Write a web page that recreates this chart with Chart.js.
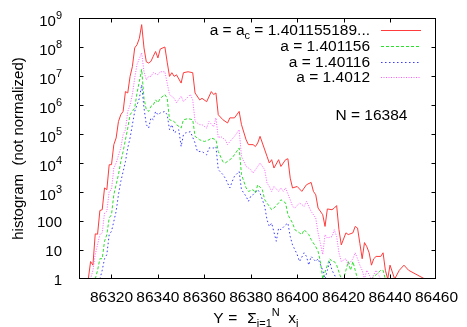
<!DOCTYPE html>
<html><head><meta charset="utf-8">
<script src="https://cdn.jsdelivr.net/npm/chart.js@4/dist/chart.umd.min.js"></script>
<style>html,body{margin:0;padding:0;background:#fff}canvas{display:block}</style>
</head><body>
<canvas id="c" width="467" height="327"></canvas>
<script>
// ---- data ----
const xTicks = [86320, 86340, 86360, 86380, 86400, 86420, 86440, 86460];
const yTicks = [1, 10, 100, 1e3, 1e4, 1e5, 1e6, 1e7, 1e8, 1e9];
const seriesLabels = ['a = a_c = 1.401155189...', 'a = 1.401156', 'a = 1.40116', 'a = 1.4012'];

const redX = [86310,86311,86312,86313,86314,86315,86316,86317,86318,86319,86320,86321,86322,86323,86324,86325,86326,86327,86328,86329,86330,86331,86332,86333,86334,86335,86336,86337,86338,86339,86340,86341,86343,86344,86345,86346,86347,86348,86350,86351,86353,86355,86356,86358,86359,86361,86363,86364,86365,86366,86368,86370,86371,86373,86375,86376,86378,86379,86381,86382,86383,86384,86385,86387,86388,86389,86390,86392,86393,86395,86396,86397,86398,86400,86402,86404,86406,86407,86408,86409,86411,86412,86413,86415,86416,86417,86418,86419,86421,86422,86424,86425,86426,86427,86428,86429,86430,86431,86432,86433,86434,86436,86437,86438,86439,86440,86442,86444,86446,86448,86455];
const redY = [1,4,3,36,35,230,245,1380,1200,8700,8800,4.3e4,7.3e4,2.7e5,4.6e5,6e5,2.9e6,2.6e6,9.7e6,2.1e7,9.3e7,1.2e8,2e8,5.9e8,9.3e7,3.1e7,2.8e7,3.2e7,4.8e7,7e7,4.2e7,8.5e7,1e8,3e7,9.7e6,1.3e7,9.7e6,1.1e7,5.7e6,1.3e7,1.4e7,1.3e7,2.6e6,1.5e6,1.7e6,1.3e6,2.9e6,2.3e6,2.6e6,4.6e5,3.1e5,2.4e5,3.6e5,3.6e5,6e5,2.1e5,6.3e4,4.3e4,4.3e4,3.7e4,4.9e4,8.3e4,4.9e4,1.7e4,1e4,1.3e4,6700,1.3e4,7600,1.3e4,1.4e4,3000,1380,1550,1050,1780,2140,1050,800,280,165,65,260,245,280,340,50,15,39,34,39,65,57,17,5,18,13,8,3,5,6,6,8,2,1,3,1,2,3,2,1];

const greenX = [86313,86314,86315,86316,86317,86318,86319,86320,86321,86323,86324,86325,86326,86327,86328,86330,86331,86332,86333,86334,86335,86336,86337,86338,86339,86340,86341,86343,86344,86345,86347,86348,86350,86351,86353,86355,86356,86358,86360,86362,86363,86365,86366,86368,86369,86371,86372,86375,86376,86378,86379,86381,86382,86383,86385,86386,86388,86389,86390,86392,86393,86395,86396,86398,86399,86401,86402,86403,86405,86406,86408,86409,86410,86411,86413,86414,86415,86416,86417,86419,86420,86421,86422,86423,86424,86425,86426,86430,86432,86436,86437,86438];
const greenY = [1,2,5,5,20,34,126,165,810,4000,1.1e4,2.5e4,6.3e4,1.6e5,4.6e5,7.9e5,2.6e6,6.5e6,1.7e7,1.7e6,6.9e5,6e5,9e5,1e6,1.5e6,1.2e6,1.7e6,2.3e6,1.7e6,3.1e5,2.7e5,2.1e5,1.6e5,3.1e5,3.4e5,3.1e5,8.3e4,6.3e4,5.5e4,6.3e4,7.3e4,6.3e4,2.5e4,1.1e4,1e4,1.3e4,1.5e4,3.3e4,4000,1380,1050,1200,920,1780,1200,540,320,245,280,420,540,420,165,85,50,39,34,50,34,23,13,9,4,1,3,5,4,4,3,1,1,2,4,2,4,2,1,1,1,2,2,1];

const blueX = [86315,86316,86317,86318,86319,86320,86322,86323,86324,86326,86327,86328,86329,86330,86332,86333,86334,86335,86336,86337,86338,86339,86340,86341,86343,86344,86345,86346,86347,86349,86350,86351,86352,86354,86356,86357,86359,86361,86362,86364,86365,86366,86368,86369,86371,86372,86373,86375,86376,86378,86379,86380,86381,86383,86384,86386,86387,86388,86389,86391,86392,86393,86395,86396,86397,86398,86400,86401,86403,86404,86405,86406,86408,86409,86411,86412,86413,86414,86415,86417,86418,86422,86423,86427,86428];
const blueY = [1,2,5,7,34,44,215,810,2300,1.1e4,3.3e4,7.3e4,2.1e5,6e5,1.7e6,5e6,7.9e5,2.1e5,1.6e5,3.6e5,3.1e5,6e5,4.6e5,5.3e5,6e5,4.6e5,1.4e5,2.1e5,1.1e5,1.4e5,3.7e4,9.5e4,1.1e5,1.2e5,4.9e4,2.5e4,2.5e4,1.9e4,3.3e4,3.3e4,3.7e4,5900,4000,3000,1380,2300,3500,5100,1200,710,475,710,810,1200,920,320,110,65,85,20,57,50,74,85,29,15,7,4,8,6,3,6,4,5,2,1,2,4,2,1,1,1,1,1,1];

const magentaX = [86311,86312,86313,86315,86316,86317,86318,86319,86320,86321,86322,86324,86325,86326,86327,86328,86329,86330,86331,86332,86333,86334,86335,86336,86337,86338,86340,86341,86343,86345,86347,86348,86350,86351,86354,86355,86356,86358,86359,86361,86362,86364,86365,86366,86367,86369,86370,86371,86373,86375,86376,86378,86380,86381,86383,86384,86386,86387,86388,86389,86390,86392,86393,86394,86395,86397,86398,86399,86401,86403,86404,86405,86406,86408,86409,86410,86411,86412,86413,86415,86416,86417,86418,86419,86421,86422,86424,86425,86426,86427,86428,86429,86430,86432,86434,86436,86438,86440];
const magentaY = [1,2,7,34,39,190,215,1050,1200,6700,1e4,3.3e4,9.5e4,1.4e5,6e5,1e6,2.3e6,8.5e6,2.5e7,4e7,6.2e7,1.4e7,7.4e6,9.7e6,9.7e6,1.3e7,1.1e7,1.4e7,1.4e7,2.3e6,1.7e6,1.2e6,2e6,1.3e6,2.3e6,1.5e6,2.7e5,2.1e5,2.1e5,1.6e5,2.7e5,1.8e5,3.6e5,7.3e4,8.3e4,6.3e4,4.3e4,5.5e4,8.3e4,1.4e5,1.7e4,7600,5900,4500,7600,1e4,5900,2050,1550,1050,1550,1050,1380,1050,1380,540,320,280,420,320,475,320,215,126,39,17,7,34,26,29,50,29,8,4,5,3,5,8,5,3,2,1,2,1,2,1,1,1];

// ---- chart ----
const FONT = "'Liberation Sans', Arial, Helvetica, sans-serif";
const MAIN = 15.5, SMALL = 11;
const pts = (xs, ys) => xs.map((x, i) => ({x: x, y: ys[i]}));
const styles = [
  {color: '#ff3b3b', dash: []},
  {color: '#2ee02e', dash: [3, 2]},
  {color: '#3b3bff', dash: [1.5, 2.5]},
  {color: '#ff5cff', dash: [1, 1.5]}
];
const seriesData = [pts(redX, redY), pts(greenX, greenY), pts(blueX, blueY), pts(magentaX, magentaY)];

function drawPieces(ctx, pieces, x, baseline, align, mainSize) {
  const ms = mainSize || MAIN;
  const fontFor = k => (k === 'n' ? ms : SMALL) + 'px ' + FONT;
  let total = 0;
  pieces.forEach(p => { ctx.font = fontFor(p[1]); total += ctx.measureText(p[0]).width; });
  let cx = align === 'right' ? x - total : (align === 'center' ? x - total / 2 : x);
  ctx.textAlign = 'left';
  ctx.textBaseline = 'alphabetic';
  pieces.forEach(p => {
    ctx.font = fontFor(p[1]);
    const dy = p[1] === 'b' ? 4 : (p[1] === 'p' ? -7 : 0);
    ctx.fillText(p[0], cx, baseline + dy);
    cx += ctx.measureText(p[0]).width;
  });
}

const framePlugin = {
  id: 'gnuframe',
  afterDraw(chart) {
    const ctx = chart.ctx, a = chart.chartArea;
    const xs = chart.scales.x, ys = chart.scales.y;
    const L = Math.round(a.left) + 0.5, R = Math.round(a.right) - 0.5;
    const T = Math.round(a.top) + 0.5, B = Math.round(a.bottom) - 0.5;
    ctx.save();
    ctx.strokeStyle = '#000';
    ctx.lineWidth = 1;
    ctx.setLineDash([]);
    ctx.strokeRect(L, T, R - L, B - T);
    const TL = 4;
    ctx.beginPath();
    xs.ticks.forEach(t => {
      const px = Math.round(xs.getPixelForValue(t.value)) + 0.5;
      if (px <= L + 1 || px >= R - 1) return;
      ctx.moveTo(px, B); ctx.lineTo(px, B - TL);
      ctx.moveTo(px, T); ctx.lineTo(px, T + TL);
    });
    ys.ticks.forEach(t => {
      const py = Math.round(ys.getPixelForValue(t.value)) + 0.5;
      if (py <= T + 1 || py >= B - 1) return;
      ctx.moveTo(L, py); ctx.lineTo(L + TL, py);
      ctx.moveTo(R, py); ctx.lineTo(R - TL, py);
    });
    ctx.stroke();

    ctx.fillStyle = '#000';
    // y tick labels
    const yLabRight = a.left - 17;
    ys.ticks.forEach(t => {
      const v = t.value;
      const py = ys.getPixelForValue(v);
      const k = Math.round(Math.log10(v));
      if (k <= 2) {
        drawPieces(ctx, [[String(v), 'n']], yLabRight, py + 5.5, 'right', 15);
      } else {
        drawPieces(ctx, [['10', 'n'], [String(k), 'p']], yLabRight, py + 8, 'right', 15);
      }
    });

    // y axis title
    ctx.save();
    ctx.translate(23, (a.top + a.bottom) / 2);
    ctx.rotate(-Math.PI / 2);
    ctx.font = '15px ' + FONT;
    ctx.textAlign = 'center';
    ctx.textBaseline = 'alphabetic';
    ctx.fillText('histogram  (not normalized)', 0, 0);
    ctx.restore();

    // x axis title
    const cxm = (a.left + a.right) / 2;
    drawPieces(ctx, [['Y', 'n']], cxm - 44.5, 323, 'left');
    drawPieces(ctx, [['=', 'n']], cxm - 29.5, 323, 'left');
    drawPieces(ctx, [['\u03A3', 'n'], ['i=1', 'b'], ['N', 'p']], cxm - 10.5, 323, 'left');
    drawPieces(ctx, [['x', 'n'], ['i', 'b']], cxm + 30.5, 323, 'left');

    // legend
    const textRight = 370, s0 = 381, s1 = 421;
    const legendPieces = [
      [['a = a', 'n'], ['c', 'b'], [' = 1.401155189...', 'n']],
      [[seriesLabels[1], 'n']],
      [[seriesLabels[2], 'n']],
      [[seriesLabels[3], 'n']]
    ];
    [0, 1, 2, 3].forEach((di, row) => {
      const base = 35 + 15.8 * row;
      drawPieces(ctx, legendPieces[row], textRight, base, 'right');
      const ly = Math.round(base - 5) + 0.5;
      ctx.strokeStyle = styles[di].color;
      ctx.setLineDash(styles[di].dash);
      ctx.beginPath();
      ctx.moveTo(s0, ly); ctx.lineTo(s1, ly);
      ctx.stroke();
    });
    ctx.setLineDash([]);

    // annotation
    drawPieces(ctx, [['N = 16384', 'n']], 335.5, 120, 'left');
    ctx.restore();
  }
};

new Chart(document.getElementById('c').getContext('2d'), {
  type: 'line',
  data: {
    datasets: seriesData.map((d, i) => ({
      label: seriesLabels[i],
      data: d,
      borderColor: styles[i].color,
      borderDash: styles[i].dash,
      borderWidth: 1,
      pointRadius: 0,
      fill: false,
      tension: 0
    })).slice().reverse()
  },
  options: {
    responsive: false,
    animation: false,
    devicePixelRatio: 1,
    layout: {padding: {left: 0, right: 27, top: 18, bottom: 0}},
    plugins: {legend: {display: false}, tooltip: {enabled: false}},
    scales: {
      x: {
        type: 'linear', min: 86306, max: 86460,
        afterBuildTicks: s => { s.ticks = xTicks.map(v => ({value: v})); },
        afterFit: s => { s.height = 48; },
        grid: {display: false, drawTicks: false},
        border: {display: false},
        ticks: {font: {family: FONT, size: MAIN}, color: '#000', padding: 9, maxRotation: 0, autoSkip: false,
                callback: v => String(v)}
      },
      y: {
        type: 'logarithmic', min: 1, max: 1e9,
        afterBuildTicks: s => { s.ticks = yTicks.map(v => ({value: v})); },
        afterFit: s => { s.width = 79; },
        grid: {display: false, drawTicks: false},
        border: {display: false},
        ticks: {display: false}
      }
    }
  },
  plugins: [framePlugin]
});
</script>
</body></html>
